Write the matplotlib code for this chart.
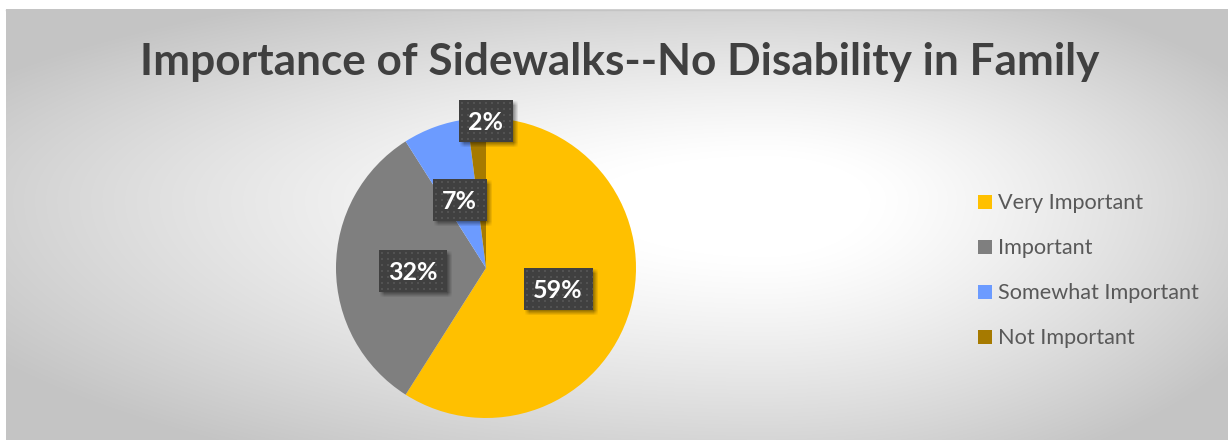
import numpy as np
import matplotlib
matplotlib.use("Agg")
import matplotlib.pyplot as plt
from matplotlib.patches import Rectangle

title = "Importance of Sidewalks--No Disability in Family"
categories = ["Very Important", "Important", "Somewhat Important", "Not Important"]
percentages = [59, 32, 7, 2]
colors = ["#FFC000", "#7F7F7F", "#6C9BFF", "#A67A00"]

W, H = 1228, 441
CX, CY, R = 486, 268, 150          # pie centre / radius in pixels
label_radius = [0.5, 0.5, 0.5, 0.98]
label_nudge = [(0, 0), (2, 3), (-1, 3), (9, 0)]

fig = plt.figure(figsize=(W / 100, H / 100), dpi=100)
fig.patch.set_facecolor("white")

# ---- background: soft radial gradient, light just right of the pie ----
bg = fig.add_axes([0, 0, 1, 1], zorder=0)
bg.set_xlim(0, W)
bg.set_ylim(H, 0)
bg.axis("off")
x0, x1, y0, y1 = 6, W, 9, 440
xs = np.arange(x0, x1) + 0.5
ys = np.arange(y0, y1) + 0.5
X, Y = np.meshgrid(xs, ys)
gx, gy = 765, 200
ax_ = np.where(X < gx, 780.0, 480.0)
ay_ = np.where(Y < gy, 200.0, 260.0)
d = np.sqrt(((X - gx) / ax_) ** 2 + ((Y - gy) / ay_) ** 2)
t = np.clip((d - 0.22) / 0.95, 0, 1) ** 1.2
g = (255 - (255 - 196) * t) / 255.0
bg.imshow(np.dstack([g, g, g]), extent=(x0, x1, y1, y0), origin="upper",
          aspect="auto", interpolation="bilinear", zorder=0)
bg.plot([x0, x1], [y0 + 0.5, y0 + 0.5], color="#c4c4c4", lw=1, zorder=1)

# ---- pie ----
pax = fig.add_axes([(CX - R) / W, 1 - (CY + R) / H, 2 * R / W, 2 * R / H], zorder=1)
wedges, _ = pax.pie(percentages, colors=colors, startangle=90, counterclock=False,
                    radius=1, wedgeprops=dict(linewidth=0))
pax.set_xlim(-1, 1)
pax.set_ylim(-1, 1)
pax.axis("off")

# ---- overlay: title, data labels, legend ----
ov = fig.add_axes([0, 0, 1, 1], zorder=3)
ov.set_xlim(0, W)
ov.set_ylim(H, 0)
ov.axis("off")
ov.patch.set_alpha(0)

ov.text(620, 75, title, ha="center", va="baseline", fontsize=31.8,
        fontweight="bold", family="Lato", color="#404040")

fig.canvas.draw()
renderer = fig.canvas.get_renderer()


def blur(a, k):
    kern = np.ones(k) / k
    a = np.apply_along_axis(lambda r: np.convolve(r, kern, mode="same"), 1, a)
    a = np.apply_along_axis(lambda c: np.convolve(c, kern, mode="same"), 0, a)
    return a


box_h = 42
for w, pct, rr, (nx, ny) in zip(wedges, percentages, label_radius, label_nudge):
    mid = np.deg2rad((w.theta1 + w.theta2) / 2)
    lx = CX + rr * R * np.cos(mid) + nx
    ly = CY - rr * R * np.sin(mid) + ny
    txt = ov.text(lx, ly + 9, f"{pct}%", ha="center", va="baseline", fontsize=18,
                  fontweight="bold", family="Lato", color="white", zorder=6)
    tw = txt.get_window_extent(renderer).width
    bw = int(round(tw + 19))
    bx = int(round(lx - bw / 2))
    by = int(round(ly - box_h / 2))
    # soft drop shadow
    p = 8
    m = np.zeros((box_h + 2 * p, bw + 2 * p))
    m[p + 3:p + 3 + box_h, p + 3:p + 3 + bw] = 1.0
    m = blur(m, 5) * 0.4
    sh = np.zeros(m.shape + (4,))
    sh[..., 3] = m
    ov.imshow(sh, extent=(bx - p, bx + bw + p, by + box_h + p, by - p),
              origin="upper", interpolation="bilinear", aspect="auto", zorder=4)
    # dark fill with a faint dot grid
    base = np.full((box_h, bw, 3), 0x40 / 255.0)
    jj, ii = np.meshgrid(np.arange(bw), np.arange(box_h))
    dots = ((ii % 6) >= 2) & ((ii % 6) < 4) & ((jj % 6) >= 2) & ((jj % 6) < 4)
    base[dots] = 0x52 / 255.0
    ov.imshow(base, extent=(bx, bx + bw, by + box_h, by), origin="upper",
              interpolation="nearest", aspect="auto", zorder=5)

ov.set_xlim(0, W)
ov.set_ylim(H, 0)

# legend
leg_x, leg_y0, leg_step, sq = 978, 209, 45, 14
for i, (w, name) in enumerate(zip(wedges, categories)):
    base_y = leg_y0 + i * leg_step
    ov.add_patch(Rectangle((leg_x, base_y - sq), sq, sq,
                           facecolor=w.get_facecolor(), edgecolor="none", zorder=6))
    ov.text(leg_x + 20, base_y, name, ha="left", va="baseline", fontsize=15.6,
            family="Lato", color="#595959", zorder=6)

fig.savefig("out.png", dpi=100)
